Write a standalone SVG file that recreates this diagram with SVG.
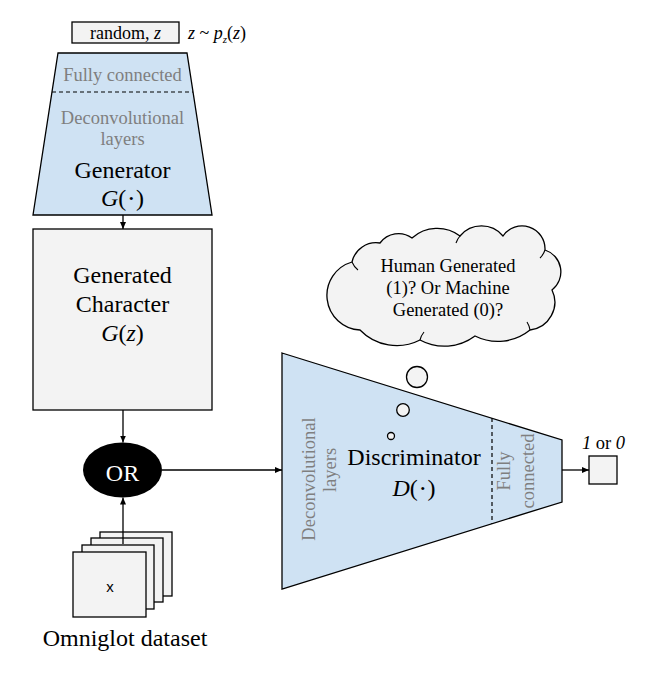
<svg xmlns="http://www.w3.org/2000/svg" width="648" height="673" viewBox="0 0 648 673" font-family="'Liberation Serif', 'DejaVu Serif', serif">
<defs>
<marker id="ah" markerWidth="7" markerHeight="6" refX="7" refY="3" orient="auto" markerUnits="userSpaceOnUse"><path d="M0,0 L7,3 L0,6 z" fill="#000"/></marker>
</defs>
<style>
.g{fill:#7f7f7f;font-size:18.5px;text-anchor:middle}
.b{fill:#000;font-size:24px;text-anchor:middle}
.it{font-style:italic}
.box{fill:#f3f3f3;stroke:#000;stroke-width:1.3}
.blue{fill:#cfe2f3;stroke:#000;stroke-width:1.3}
.dash{stroke:#000;stroke-width:1.2;stroke-dasharray:4,3;fill:none}
.conn line{stroke:#000;stroke-width:1.3;marker-end:url(#ah)}
</style>
<rect x="0" y="0" width="648" height="673" fill="#fff"/>

<g id="random">
<rect class="box" x="72" y="22" width="107" height="21"/>
<text x="125.5" y="38.5" font-size="18" text-anchor="middle">random, <tspan class="it">z</tspan></text>
</g>
<g id="zdist">
<text x="188" y="38.5" font-size="18"><tspan class="it">z</tspan> ~ <tspan class="it">p</tspan><tspan class="it" font-size="11" dy="4">z</tspan><tspan dy="-4">(</tspan><tspan class="it">z</tspan>)</text>
</g>

<g id="generator">
<polygon class="blue" points="58,53 187,53 212,215 33,215"/>
<line class="dash" x1="52" y1="92" x2="193" y2="92"/>
<text class="g" x="122.5" y="81">Fully connected</text>
<text class="g" x="122.5" y="124">Deconvolutional</text>
<text class="g" x="122.5" y="145">layers</text>
<text class="b" x="122.5" y="177.5">Generator</text>
<text class="b" x="122.5" y="206"><tspan class="it">G</tspan>(<tspan font-size="13" dy="-3">&#8201;•&#8201;</tspan><tspan dy="3">)</tspan></text>
</g>

<g id="generated">
<rect class="box" x="33" y="229" width="179" height="181"/>
<text class="b" x="122.5" y="283">Generated</text>
<text class="b" x="122.5" y="312">Character</text>
<text class="b" x="122.5" y="341"><tspan class="it">G</tspan>(<tspan class="it">z</tspan>)</text>
</g>

<g id="or">
<ellipse cx="122.5" cy="470" rx="39.5" ry="27.5" fill="#000"/>
<text x="122.5" y="481" font-size="24" fill="#fff" text-anchor="middle">OR</text>
</g>

<g id="omniglot">
<rect class="box" x="100" y="532" width="72" height="64"/>
<rect class="box" x="91" y="538" width="72" height="64"/>
<rect class="box" x="82" y="545" width="72" height="64"/>
<rect class="box" x="73" y="552" width="73" height="65"/>
<text x="110" y="592" font-size="15" text-anchor="middle" font-family="'Liberation Sans', Arial, sans-serif">x</text>
<text x="125" y="646" font-size="24" text-anchor="middle">Omniglot dataset</text>
</g>

<g id="discriminator">
<polygon class="blue" points="282,353 562,440 562,502 282,589"/>
<line class="dash" x1="492" y1="418" x2="492" y2="524"/>
<text class="g" transform="translate(315,479) rotate(-90)">Deconvolutional</text>
<text class="g" transform="translate(336,470) rotate(-90)">layers</text>
<text class="g" transform="translate(510,471) rotate(-90)">Fully</text>
<text class="g" transform="translate(534,471) rotate(-90)">connected</text>
<text class="b" x="414" y="464.5">Discriminator</text>
<text class="b" x="414" y="496"><tspan class="it">D</tspan>(<tspan font-size="13" dy="-3">&#8201;•&#8201;</tspan><tspan dy="3">)</tspan></text>
</g>

<g id="thought">
<path class="box" d="M360,330 A34.7,34.7 0 0 1 352,262 A24.7,24.7 0 0 1 380,243 A23,23 0 0 1 412,238 A38,38 0 0 1 460,236 A28,28 0 0 1 503,236 A23,23 0 0 1 545,250 A23,23 0 0 1 552,290 A28,28 0 0 1 530,330 A51,51 0 0 1 475,336 A51,51 0 0 1 420,340 A51,51 0 0 1 360,330 Z"/>
<path d="M352,262 A20,20 0 0 0 358,270 M460,236 A20,20 0 0 0 456,243 M545,250 A20,20 0 0 1 540,258 M530,330 A20,20 0 0 0 527,322 M420,340 A20,20 0 0 1 424,332" fill="none" stroke="#000" stroke-width="1.1"/>
<text x="448" y="271.5" font-size="18.5" text-anchor="middle">Human Generated</text>
<text x="448" y="293.5" font-size="18.5" text-anchor="middle">(1)? Or Machine</text>
<text x="448" y="315.5" font-size="18.5" text-anchor="middle">Generated (0)?</text>
<circle class="box" cx="417" cy="377" r="10.5"/>
<circle class="box" cx="403" cy="410" r="6.3"/>
<circle class="box" cx="391" cy="436" r="3.5"/>
</g>

<g id="output">
<rect class="box" x="589" y="456" width="28" height="28"/>
<text x="603.5" y="449" font-size="18.5" text-anchor="middle"><tspan class="it">1</tspan> or <tspan class="it">0</tspan></text>
</g>

<g id="connectors" class="conn">
<line x1="123" y1="215" x2="123" y2="229"/>
<line x1="123" y1="410" x2="123" y2="442.5"/>
<line x1="123" y1="544" x2="123" y2="497.5"/>
<line x1="162" y1="470" x2="282" y2="470"/>
<line x1="562" y1="470" x2="589" y2="470"/>
</g>
</svg>
